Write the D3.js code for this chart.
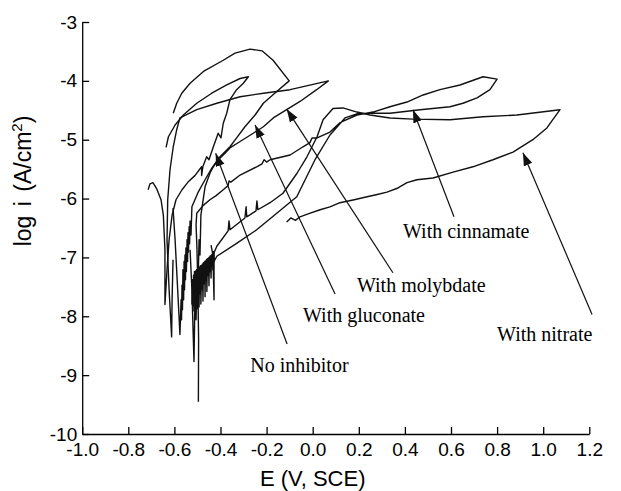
<!DOCTYPE html>
<html>
<head>
<meta charset="utf-8">
<script src="https://cdn.jsdelivr.net/npm/d3@7"></script>
<style>
body { margin: 0; background: #fff; }
.axis text { font-family: "Liberation Sans", Arial, sans-serif; font-size: 19px; fill: #000; }
.axis path, .axis line { stroke: #000; stroke-width: 1.3; }
.legend { font-family: "Liberation Sans", Arial, sans-serif; font-size: 22px; fill: #000; }
.note { font-family: "Liberation Serif", "Times New Roman", serif; font-size: 20px; fill: #000; }
</style>
</head>
<body>
<script>
//tick values
var xTicks = [-1.0, -0.8, -0.6, -0.4, -0.2, 0.0, 0.2, 0.4, 0.6, 0.8, 1.0, 1.2];
var yTicks = [-10, -9, -8, -7, -6, -5, -4, -3];

//polarization curves, [E (V, SCE), log i]
var noInhibitor = [
  [-0.714,-5.85],[-0.706,-5.75],[-0.693,-5.73],[-0.676,-5.84],[-0.658,-6.02],[-0.648,-6.28],[-0.641,-6.87],[-0.641,-7.80],
  [-0.632,-7.21],[-0.623,-6.70],[-0.610,-6.28],[-0.593,-6.02],[-0.567,-5.85],[-0.541,-5.72],[-0.511,-5.61],[-0.482,-5.46],
  [-0.482,-5.61],[-0.476,-5.45],[-0.460,-5.29],[-0.450,-5.34],[-0.431,-5.12],[-0.410,-4.89],[-0.398,-4.97],[-0.388,-4.72],
  [-0.373,-4.55],[-0.359,-4.32],[-0.330,-4.15],[-0.301,-4.04],[-0.279,-3.93],
  [-0.315,-3.96],[-0.373,-4.07],[-0.438,-4.21],[-0.503,-4.38],[-0.561,-4.58],[-0.597,-4.75],[-0.626,-4.95],[-0.636,-5.13]
];

var gluconate = [
  [-0.606,-6.16],[-0.597,-6.70],[-0.588,-7.38],[-0.576,-8.31],
  [-0.571,-7.72],[-0.569,-8.06],[-0.567,-7.47],[-0.565,-7.89],[-0.563,-7.21],[-0.560,-7.72],[-0.558,-7.07],[-0.556,-7.55],
  [-0.554,-6.96],[-0.552,-7.38],[-0.550,-6.84],[-0.548,-7.24],[-0.545,-6.70],[-0.543,-7.07],[-0.541,-6.58],[-0.539,-6.91],
  [-0.536,-6.48],[-0.534,-6.77],[-0.532,-6.38],[-0.528,-6.62],[-0.524,-6.14],
  [-0.498,-5.90],[-0.467,-5.68],[-0.437,-5.48],[-0.402,-5.29],[-0.359,-5.12],[-0.330,-4.97],[-0.294,-4.78],[-0.250,-4.58],
  [-0.214,-4.38],[-0.156,-4.18],[-0.102,-4.00],
  [-0.172,-3.65],[-0.220,-3.49],[-0.272,-3.46],[-0.337,-3.53],[-0.388,-3.65],[-0.474,-3.84],[-0.532,-4.04],[-0.568,-4.21],
  [-0.590,-4.38],[-0.605,-4.55]
];

var molybdate = [
  [-0.532,-6.87],[-0.524,-7.55],[-0.515,-8.77],
  [-0.511,-7.72],[-0.506,-8.06],[-0.502,-7.21],[-0.498,-7.55],[-0.493,-6.70],[-0.489,-6.96],[-0.485,-6.28],[-0.467,-5.80],
  [-0.446,-5.57],[-0.431,-5.46],[-0.410,-5.34],[-0.388,-5.26],[-0.359,-5.14],[-0.315,-5.03],[-0.258,-4.89],[-0.214,-4.78],
  [-0.171,-4.63],[-0.113,-4.49],[-0.055,-4.35],[0.017,-4.15],[0.068,-4.00],
  [-0.098,-4.15],[-0.214,-4.21],[-0.315,-4.27],[-0.416,-4.38],[-0.503,-4.49],[-0.576,-4.63],[-0.590,-4.83],[-0.605,-5.12],
  [-0.619,-5.51],[-0.629,-6.02],[-0.632,-6.70],[-0.623,-7.55],[-0.612,-8.35],[-0.610,-7.72],[-0.606,-7.04]
];

var cinnamate = [
  [-0.496,-9.45],[-0.495,-8.40],[-0.498,-7.55],[-0.502,-6.87],[-0.506,-6.45],[-0.503,-6.25],[-0.476,-6.12],[-0.446,-6.02],
  [-0.419,-5.95],[-0.388,-5.85],[-0.367,-5.78],[-0.363,-5.70],[-0.355,-5.72],[-0.315,-5.60],[-0.243,-5.46],[-0.220,-5.41],
  [-0.211,-5.34],[-0.200,-5.38],[-0.185,-5.34],[-0.098,-5.26],[-0.042,-5.12],[-0.012,-5.05],[-0.003,-4.97],[0.019,-4.97],
  [0.075,-4.87],[0.118,-4.71],[0.192,-4.58],[0.262,-4.53],[0.335,-4.44],[0.409,-4.36],[0.479,-4.24],[0.552,-4.15],
  [0.639,-4.07],[0.739,-3.93],[0.800,-3.97],
  [0.769,-4.15],[0.713,-4.29],[0.652,-4.38],[0.596,-4.44],[0.466,-4.49],[0.335,-4.55],[0.249,-4.55],[0.192,-4.56],
  [0.140,-4.63],[0.075,-4.92],[0.010,-5.34],[-0.069,-5.97],[-0.156,-6.25],[-0.243,-6.53],[-0.330,-6.76],[-0.416,-6.98],
  [-0.428,-7.07],[-0.430,-6.90],[-0.433,-7.21],[-0.435,-6.94],[-0.437,-7.14],[-0.439,-6.96],[-0.441,-7.35],[-0.444,-6.97],
  [-0.446,-7.24],[-0.448,-6.99],[-0.450,-7.48],[-0.452,-7.01],[-0.454,-7.31],[-0.457,-7.02],[-0.459,-7.58],[-0.461,-7.04],
  [-0.463,-7.38],[-0.465,-7.06],[-0.467,-7.67],[-0.469,-7.07],[-0.472,-7.45],[-0.474,-7.09],[-0.476,-7.74],[-0.478,-7.11],
  [-0.480,-7.55],[-0.482,-7.13],[-0.485,-7.79],[-0.487,-7.14],[-0.489,-7.62],[-0.491,-7.16],[-0.493,-7.84],[-0.495,-7.18],
  [-0.498,-7.69],[-0.500,-7.19],[-0.502,-7.87],[-0.504,-7.21],[-0.506,-7.72],[-0.508,-7.23],[-0.511,-7.89],[-0.513,-7.24],
  [-0.515,-7.82],[-0.517,-7.30],[-0.519,-7.91],[-0.521,-7.38],[-0.524,-7.80]
];

var nitrate = [
  [-0.113,-6.40],[-0.095,-6.33],[-0.075,-6.37],[-0.055,-6.31],[-0.020,-6.26],[0.032,-6.19],[0.075,-6.14],[0.118,-6.07],
  [0.180,-6.02],[0.236,-5.97],[0.280,-5.93],[0.322,-5.89],[0.370,-5.82],[0.409,-5.73],[0.452,-5.68],[0.522,-5.65],
  [0.609,-5.55],[0.695,-5.46],[0.782,-5.34],[0.869,-5.21],[0.955,-5.00],[1.016,-4.80],[1.073,-4.49],
  [0.886,-4.58],[0.739,-4.61],[0.596,-4.66],[0.435,-4.65],[0.335,-4.63],[0.249,-4.58],[0.192,-4.53],[0.131,-4.46],
  [0.088,-4.47],[0.045,-4.66],[0.019,-4.95],[-0.025,-5.29],[-0.068,-5.57],[-0.129,-5.91],[-0.185,-6.07],[-0.238,-6.19],
  [-0.242,-6.04],[-0.246,-6.21],[-0.286,-6.31],[-0.289,-6.14],[-0.294,-6.33],[-0.359,-6.53],[-0.363,-6.38],[-0.367,-6.55],
  [-0.416,-6.81],[-0.428,-6.92],[-0.428,-7.72],[-0.433,-6.96],[-0.441,-6.79]
];

var curves = [noInhibitor, gluconate, molybdate, cinnamate, nitrate];
var labels = ["No inhibitor", "With gluconate", "With molybdate", "With cinnamate", "With nitrate"];

//label anchors and arrows (tail at the label, tip on the curve), in data units
var notes = [
  {text: labels[0], x: -0.271, y: -8.94, tail: [-0.111, -8.47], tip: [-0.421, -5.23]},
  {text: labels[1], x: -0.042, y: -8.09, tail: [0.097, -7.62], tip: [-0.250, -4.75]},
  {text: labels[2], x: 0.192, y: -7.58, tail: [0.348, -7.26], tip: [-0.113, -4.48]},
  {text: labels[3], x: 0.392, y: -6.67, tail: [0.613, -6.31], tip: [0.435, -4.49]},
  {text: labels[4], x: 0.800, y: -8.42, tail: [1.212, -7.97], tip: [0.912, -5.22]}
];

var width = 621, height = 491;

var xScale = d3.scaleLinear( )
               .domain([-1.0, 1.2])
               .range([82.2, 589.3]);

var yScale = d3.scaleLinear( )
               .domain([-10, -3])
               .range([434, 22]);

var xAxis = d3.axisBottom( )
              .scale(xScale)
              .tickValues(xTicks)
              .tickFormat(function(d){ return d.toFixed(1); })
              .tickSizeInner(-7)
              .tickSizeOuter(0)
              .tickPadding(9);

var yAxis = d3.axisLeft( )
              .scale(yScale)
              .tickValues(yTicks)
              .tickFormat(function(d){ return String(d); })
              .tickSizeInner(-7)
              .tickSizeOuter(0)
              .tickPadding(5);

var _svg = d3.select("body")
             .append("svg")
             .attr("width", width)
             .attr("height", height);

_svg.append("defs")
    .append("marker")
    .attr("id", "head")
    .attr("viewBox", "0 0 13 10")
    .attr("refX", 13)
    .attr("refY", 5)
    .attr("markerWidth", 13)
    .attr("markerHeight", 10)
    .attr("markerUnits", "userSpaceOnUse")
    .attr("orient", "auto")
    .append("path")
    .attr("d", "M 0 0.5 L 13 5 L 0 9.5 Z")
    .attr("fill", "#111");

//axes
_svg.append("g")
    .attr("class", "axis")
    .attr("transform", "translate(0," + yScale(-10) + ")")
    .call(xAxis);

_svg.append("g")
    .attr("class", "axis")
    .attr("transform", "translate(" + xScale(-1.0) + ",0)")
    .call(yAxis);

_svg.selectAll(".axis .domain").attr("stroke-width", 1.4);

//axis titles
_svg.append("text")
    .attr("class", "legend")
    .attr("text-anchor", "middle")
    .attr("x", xScale(0))
    .attr("y", 486)
    .text("E (V, SCE)");

var yTitle = _svg.append("text")
    .attr("class", "legend")
    .attr("text-anchor", "middle")
    .style("font-size", "23px")
    .style("word-spacing", "3px")
    .attr("transform", "translate(31,181) rotate(-90)");
yTitle.append("tspan").text("log i (A/cm");
yTitle.append("tspan").attr("dy", -9).style("font-size", "15px").text("2");
yTitle.append("tspan").attr("dy", 9).text(")");

//curves
var line = d3.line( )
             .x(function(d){ return xScale(d[0]); })
             .y(function(d){ return yScale(d[1]); });

_svg.append("g")
    .selectAll("path")
    .data(curves)
    .enter( )
    .append("path")
    .attr("d", line)
    .attr("fill", "none")
    .attr("stroke", "#111")
    .attr("stroke-width", 1.4)
    .attr("stroke-linejoin", "round");

//arrows
_svg.append("g")
    .selectAll("line")
    .data(notes)
    .enter( )
    .append("line")
    .attr("x1", function(d){ return xScale(d.tail[0]); })
    .attr("y1", function(d){ return yScale(d.tail[1]); })
    .attr("x2", function(d){ return xScale(d.tip[0]); })
    .attr("y2", function(d){ return yScale(d.tip[1]); })
    .attr("stroke", "#111")
    .attr("stroke-width", 1.2)
    .attr("marker-end", "url(#head)");

//labels
_svg.append("g")
    .selectAll("text")
    .data(notes)
    .enter( )
    .append("text")
    .attr("class", "note")
    .attr("x", function(d){ return xScale(d.x); })
    .attr("y", function(d){ return yScale(d.y); })
    .text(function(d){ return d.text; });
</script>
</body>
</html>
